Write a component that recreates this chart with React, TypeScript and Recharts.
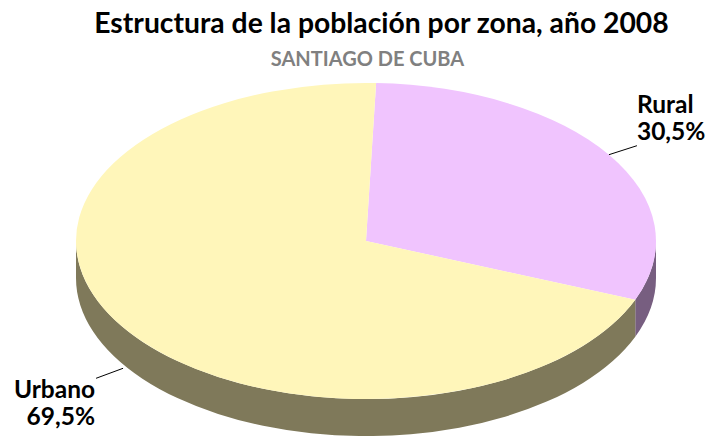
import React from "react";
import { PieChart, Pie, Cell } from "recharts";

const zonas = ["Rural", "Urbano"];
const porcentajes = [30.5, 69.5];
const topColors = ["#F0C4FE", "#FFF6BA"];
const sideColors = ["#775E80", "#7F795A"];

const data = zonas.map((name, i) => ({ name, value: porcentajes[i] }));

const RY = 0.545; // vertical squash of the ellipse
const DEPTH = 37;
const RAD = Math.PI / 180;
const FONT = "Lato, 'Open Sans', sans-serif";

const pt = (cx: number, cy: number, rx: number, a: number, dy = 0) => {
  const x = cx + rx * Math.cos(a * RAD);
  const y = cy - rx * RY * Math.sin(a * RAD) + dy;
  return `${x.toFixed(2)},${y.toFixed(2)}`;
};

function Sector3D(props: any) {
  const { cx, cy, outerRadius: r, startAngle, endAngle, fill, index, name, payload } = props;
  const nm = name ?? payload?.name;
  const idx = index ?? Math.max(0, zonas.indexOf(nm));
  const hi = Math.max(startAngle, endAngle);
  const lo = Math.min(startAngle, endAngle);
  const ry = r * RY;
  const large = hi - lo > 180 ? 1 : 0;
  const top = `M${cx},${cy} L${pt(cx, cy, r, hi)} A${r},${ry} 0 ${large} 1 ${pt(cx, cy, r, lo)} Z`;

  // side band: the part of the rim that lies in the lower half of the ellipse
  const sides: string[] = [];
  for (const k of [-1, 0, 1]) {
    const a = Math.max(lo, -180 + 360 * k);
    const b = Math.min(hi, 360 * k);
    if (b - a > 0.01) {
      sides.push(
        `M${pt(cx, cy, r, b)} A${r},${ry} 0 0 1 ${pt(cx, cy, r, a)} ` +
          `L${pt(cx, cy, r, a, DEPTH)} A${r},${ry} 0 0 0 ${pt(cx, cy, r, b, DEPTH)} Z`
      );
    }
  }
  return (
    <g>
      {sides.map((d, i) => (
        <path key={i} d={d} fill={sideColors[idx]} stroke="none" />
      ))}
      <path d={top} fill={fill ?? topColors[idx]} stroke="none" />
    </g>
  );
}

function renderLabel(props: any) {
  const { cx, cy, midAngle, outerRadius: r, name, value } = props;
  const cos = Math.cos(midAngle * RAD);
  const sin = Math.sin(midAngle * RAD);
  const lower = sin < 0;
  const x0 = cx + r * cos;
  const y0 = cy - r * RY * sin + (lower ? DEPTH + 4 : 0);
  const right = cos >= 0;
  const x1 = x0 + (right ? 28 : -27);
  const y1 = y0 + (right ? -9 : 10);
  const txt = `${Number(value).toFixed(1).replace(".", ",")}%`;
  const tx = right ? x1 : x1 - 1;
  const ty = right ? y1 - 33 : y1 + 20;
  const common = {
    textAnchor: (right ? "start" : "end") as "start" | "end",
    fontFamily: FONT,
    fontWeight: 700,
    fontSize: 24.5,
    fill: "#000",
  };
  return (
    <g>
      <line x1={x0} y1={y0} x2={x1} y2={y1} stroke="#000" strokeWidth={1} />
      <text x={tx} y={ty} {...common}>{name}</text>
      <text x={tx} y={ty + 27} {...common}>{txt}</text>
    </g>
  );
}

export default function App() {
  const pieProps: any = {
    shape: Sector3D,
    inactiveShape: Sector3D,
    activeShape: Sector3D,
  };
  return (
    <div style={{ position: "absolute", left: 0, top: 0, width: 710, height: 436, background: "#fff", overflow: "hidden" }}>
      <div style={{ position: "absolute", left: 0, top: 0 }}>
        <PieChart width={710} height={436} margin={{ top: 0, right: 0, bottom: 0, left: 0 }}>
          <Pie
            data={data}
            dataKey="value"
            nameKey="name"
            cx={366}
            cy={241}
            outerRadius={290}
            startAngle={88}
            endAngle={-272}
            stroke="none"
            isAnimationActive={false}
            {...pieProps}
            label={renderLabel}
            labelLine={false}
          >
            {data.map((d, i) => (
              <Cell key={d.name} fill={topColors[i]} />
            ))}
          </Pie>
        </PieChart>
      </div>
      <div
        style={{
          position: "absolute", left: 0, top: 5, width: 710, paddingLeft: 53, boxSizing: "border-box",
          textAlign: "center", fontFamily: FONT, fontWeight: 700, fontSize: 28.3, color: "#000",
        }}
      >
        Estructura de la población por zona, año 2008
      </div>
      <div
        style={{
          position: "absolute", left: 0, top: 46, width: 710, paddingLeft: 25, boxSizing: "border-box",
          textAlign: "center", fontFamily: FONT, fontWeight: 700, fontSize: 20, color: "#808080",
        }}
      >
        SANTIAGO DE CUBA
      </div>
    </div>
  );
}
